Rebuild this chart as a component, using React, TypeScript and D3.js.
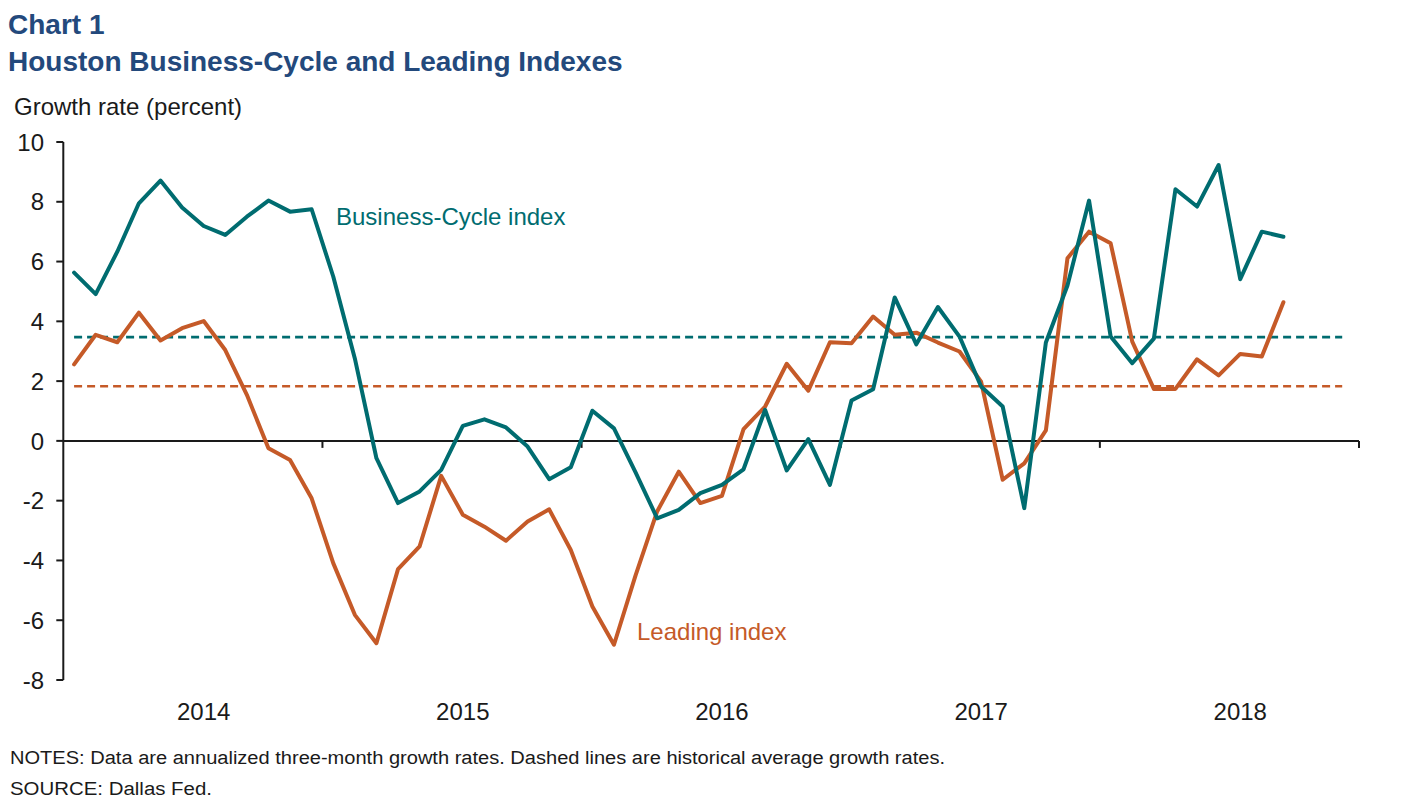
import React from "react";
import * as d3 from "d3";

// 60 monthly categories: Jul 2013 – Jun 2018
const months: string[] = d3.timeMonths(new Date(2013, 6, 1), new Date(2018, 6, 1)).map((d) => d3.timeFormat("%Y-%m")(d));

const businessCycle: number[] = [
  5.63, 4.91, 6.33, 7.95, 8.71, 7.81, 7.19, 6.89, 7.5, 8.04,
  7.67, 7.75, 5.5, 2.76, -0.58, -2.08, -1.69, -0.97, 0.5, 0.72,
  0.45, -0.19, -1.28, -0.88, 1.01, 0.42, -1.05, -2.59, -2.31, -1.75,
  -1.47, -0.95, 1.04, -0.99, 0.06, -1.47, 1.35, 1.73, 4.8, 3.23,
  4.48, 3.49, 1.82, 1.15, -2.25, 3.29, 5.2, 8.04, 3.49, 2.6,
  3.42, 8.42, 7.84, 9.23, 5.41, 7.0, 6.83,
];

const leading: number[] = [
  2.56, 3.55, 3.3, 4.29, 3.36, 3.77, 4.01, 3.04, 1.54, -0.25,
  -0.64, -1.92, -4.09, -5.82, -6.77, -4.29, -3.53, -1.17, -2.47, -2.87,
  -3.34, -2.7, -2.29, -3.65, -5.54, -6.82, -4.5, -2.36, -1.03, -2.08,
  -1.84, 0.39, 1.15, 2.58, 1.68, 3.3, 3.27, 4.16, 3.55, 3.62,
  3.29, 2.99, 1.98, -1.3, -0.75, 0.35, 6.11, 7.0, 6.61, 3.32,
  1.74, 1.74, 2.73, 2.19, 2.91, 2.82, 4.64,
];

const businessCycleAvg = 3.47;
const leadingAvg = 1.83;

const yTicks: number[] = [10, 8, 6, 4, 2, 0, -2, -4, -6, -8];
const yearLabels: { month: string; label: string }[] = [
  { month: "2014-01", label: "2014" },
  { month: "2015-01", label: "2015" },
  { month: "2016-01", label: "2016" },
  { month: "2017-01", label: "2017" },
  { month: "2018-01", label: "2018" },
];
const yearTickMonths: string[] = ["2013-07", "2014-07", "2015-07", "2016-07", "2017-07"];

const TEAL = "#006C70";
const ORANGE = "#C55A28";
const NAVY = "#23497C";
const FONT = "'Liberation Sans', Arial, sans-serif";

export default function App() {
  const W = 1422;
  const H = 810;
  const left = 63.3;
  const right = 1359;
  const x = d3.scaleBand<string>().domain(months).range([left, right]).paddingInner(0).paddingOuter(0);
  const cx = (m: string) => (x(m) as number) + x.bandwidth() / 2;
  const y = d3.scaleLinear().domain([-8, 10]).range([680, 142]);

  const line = d3
    .line<number>()
    .x((_, i) => cx(months[i]))
    .y((d) => y(d));

  const avgLine = (v: number) => `M${cx(months[0])},${y(v)}H${cx(months[59]) - 6}`;

  return (
    <svg width={W} height={H} style={{ position: "absolute", left: 0, top: 0, background: "#fff" }} fontFamily={FONT}>
      <text x={8} y={34} fontSize={28} fontWeight="bold" fill={NAVY}>Chart 1</text>
      <text x={8} y={71} fontSize={28} fontWeight="bold" fill={NAVY}>Houston Business-Cycle and Leading Indexes</text>
      <text x={14} y={115} fontSize={24} fill="#1a1a1a">Growth rate (percent)</text>

      {/* y axis */}
      <line x1={left} x2={left} y1={y(10)} y2={y(-8)} stroke="#1a1a1a" strokeWidth={2} />
      {yTicks.map((t) => (
        <g key={t}>
          <line x1={left - 7} x2={left} y1={y(t)} y2={y(t)} stroke="#1a1a1a" strokeWidth={2} />
          <text x={44} y={y(t)} dy="0.36em" textAnchor="end" fontSize={24} fill="#1a1a1a">{t}</text>
        </g>
      ))}

      {/* x axis at zero */}
      <line x1={left} x2={right} y1={y(0)} y2={y(0)} stroke="#1a1a1a" strokeWidth={2} />
      {yearTickMonths.map((m) => (
        <line key={m} x1={(x(m) as number) + 12 * x.bandwidth()} x2={(x(m) as number) + 12 * x.bandwidth()} y1={y(0)} y2={y(0) + 7} stroke="#1a1a1a" strokeWidth={2} />
      ))}
      {yearLabels.map((d) => (
        <text key={d.label} x={cx(d.month)} y={720} textAnchor="middle" fontSize={24} fill="#1a1a1a">{d.label}</text>
      ))}

      {/* averages */}
      <path d={avgLine(businessCycleAvg)} stroke={TEAL} strokeWidth={2.6} strokeDasharray="8 5" fill="none" />
      <path d={avgLine(leadingAvg)} stroke={ORANGE} strokeWidth={2.6} strokeDasharray="8 5" fill="none" />

      {/* series */}
      <path d={line(leading) || ""} stroke={ORANGE} strokeWidth={4} fill="none" strokeLinejoin="round" strokeLinecap="round" />
      <path d={line(businessCycle) || ""} stroke={TEAL} strokeWidth={4} fill="none" strokeLinejoin="round" strokeLinecap="round" />

      <text x={336} y={225} fontSize={24} fill={TEAL}>Business-Cycle index</text>
      <text x={637} y={640} fontSize={24} fill={ORANGE}>Leading index</text>

      <text x={10} y={764} fontSize={18} fill="#1a1a1a" textLength={935} lengthAdjust="spacingAndGlyphs">
        NOTES: Data are annualized  three-month growth rates. Dashed lines are historical average growth rates.
      </text>
      <text x={10} y={795} fontSize={18} fill="#1a1a1a" textLength={202} lengthAdjust="spacingAndGlyphs">
        SOURCE: Dallas Fed.
      </text>
    </svg>
  );
}
